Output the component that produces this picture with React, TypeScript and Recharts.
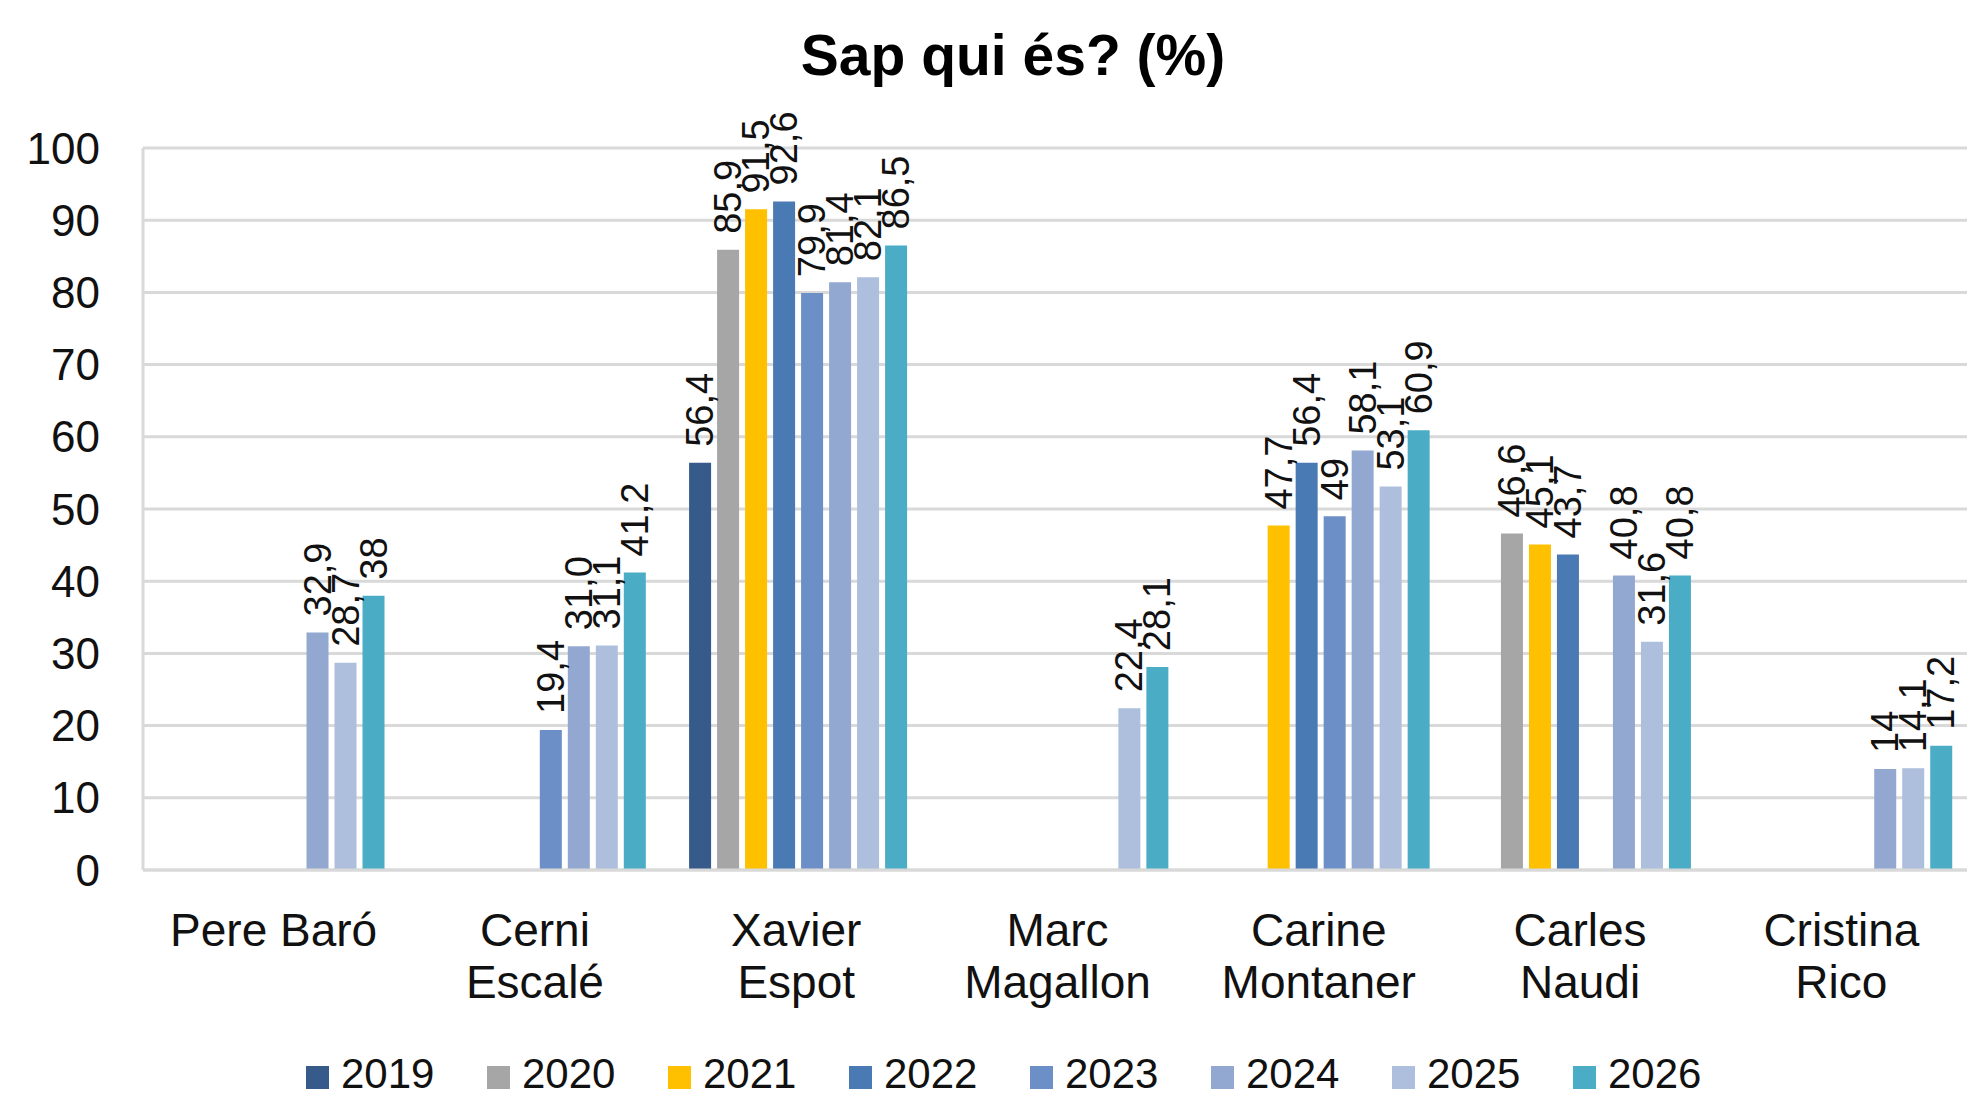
import React from 'react'
import { BarChart, Bar, XAxis, YAxis, CartesianGrid, Legend, LabelList } from 'recharts'

// candidates (x axis), "\n" marks where the label wraps
const candidates = [
  'Pere Baró',
  'Cerni\nEscalé',
  'Xavier\nEspot',
  'Marc\nMagallon',
  'Carine\nMontaner',
  'Carles\nNaudi',
  'Cristina\nRico',
]

const years = ['2019', '2020', '2021', '2022', '2023', '2024', '2025', '2026']

// values as printed on the chart (comma decimals), null = no bar
const y2019 = [null, null, '56,4', null, null, null, null]
const y2020 = [null, null, '85,9', null, null, '46,6', null]
const y2021 = [null, null, '91,5', null, '47,7', '45,1', null]
const y2022 = [null, null, '92,6', null, '56,4', '43,7', null]
const y2023 = [null, '19,4', '79,9', null, '49', null, null]
const y2024 = ['32,9', '31,0', '81,4', null, '58,1', '40,8', '14']
const y2025 = ['28,7', '31,1', '82,1', '22,4', '53,1', '31,6', '14,1']
const y2026 = ['38', '41,2', '86,5', '28,1', '60,9', '40,8', '17,2']

const yTicks = [0, 10, 20, 30, 40, 50, 60, 70, 80, 90, 100]

const colors = ['#365b8b', '#a6a6a6', '#ffc000', '#4a7ab4', '#6b8fc6', '#93a8d1', '#adbfdc', '#4bacc6']

const series = [y2019, y2020, y2021, y2022, y2023, y2024, y2025, y2026]

const toNum = (s: string | null) => (s == null ? null : parseFloat(s.replace(',', '.')))

const data = candidates.map((name, i) => {
  const row: Record<string, any> = { name }
  years.forEach((yr, k) => {
    row[yr] = toNum(series[k][i])
    row[`${yr}_label`] = series[k][i]
  })
  return row
})

const FONT = '"Liberation Sans", Arial, sans-serif'
const GRID = '#d9d9d9'

const CandidateTick = (props: any) => {
  const { x, y, payload } = props
  const lines = String(payload.value).split('\n')
  return (
    <text x={x} y={y} textAnchor="middle" fontFamily={FONT} fontSize={46} fill="#111">
      {lines.map((l, i) => (
        <tspan key={i} x={x} dy={i === 0 ? 76 : 52}>
          {l}
        </tspan>
      ))}
    </text>
  )
}

const RotatedLabel = (props: any) => {
  const { x, y, width, value } = props
  if (value == null || value === '') return null
  const cx = x + width / 2
  const ty = y - 16
  return (
    <text
      x={cx}
      y={ty}
      transform={`rotate(-90, ${cx}, ${ty})`}
      textAnchor="start"
      dominantBaseline="central"
      fontFamily={FONT}
      fontSize={38}
      fill="#111"
    >
      {value}
    </text>
  )
}

const YearLegend = () => (
  <div style={{ display: 'flex', fontFamily: FONT, fontSize: 42, lineHeight: '42px', color: '#111' }}>
    {years.map((yr, k) => (
      <div key={yr} style={{ display: 'flex', alignItems: 'center', width: 181 }}>
        <span style={{ width: 23, height: 23, background: colors[k], marginRight: 12, marginTop: 6 }} />
        <span>{yr}</span>
      </div>
    ))}
  </div>
)

export default function App() {
  return (
    <div
      style={{
        position: 'absolute',
        left: 0,
        top: 0,
        width: 1967,
        height: 1099,
        overflow: 'hidden',
        background: '#fff',
      }}
    >
      <div
        style={{
          position: 'absolute',
          left: 0,
          top: 27,
          width: 2026,
          textAlign: 'center',
          fontFamily: FONT,
          fontWeight: 700,
          fontSize: 57,
          lineHeight: '57px',
          color: '#000',
        }}
      >
        Sap qui és? (%)
      </div>
      <BarChart
        width={1990}
        height={1099}
        data={data}
        margin={{ top: 148, right: 18, bottom: 79, left: 43 }}
        barCategoryGap="9%"
        barGap={6}
      >
        <CartesianGrid vertical={false} stroke={GRID} strokeWidth={3} />
        <XAxis
          dataKey="name"
          height={150}
          interval={0}
          tickLine={false}
          tickSize={0}
          tickMargin={0}
          axisLine={{ stroke: GRID, strokeWidth: 3 }}
          tick={<CandidateTick />}
        />
        <YAxis
          width={100}
          domain={[0, 100]}
          ticks={yTicks}
          interval={0}
          tickLine={false}
          tickSize={0}
          tickMargin={43}
          axisLine={{ stroke: GRID, strokeWidth: 3 }}
          tick={{ fontFamily: FONT, fontSize: 44, fill: '#111' }}
        />
        <Legend
          layout="horizontal"
          verticalAlign="middle"
          align="center"
          content={<YearLegend />}
          wrapperStyle={{ top: 1053, left: 306, width: 1500 }}
        />
        {years.map((yr, k) => (
          <Bar key={yr} dataKey={yr} fill={colors[k]} isAnimationActive={false}>
            <LabelList dataKey={`${yr}_label`} content={<RotatedLabel />} />
          </Bar>
        ))}
      </BarChart>
    </div>
  )
}
